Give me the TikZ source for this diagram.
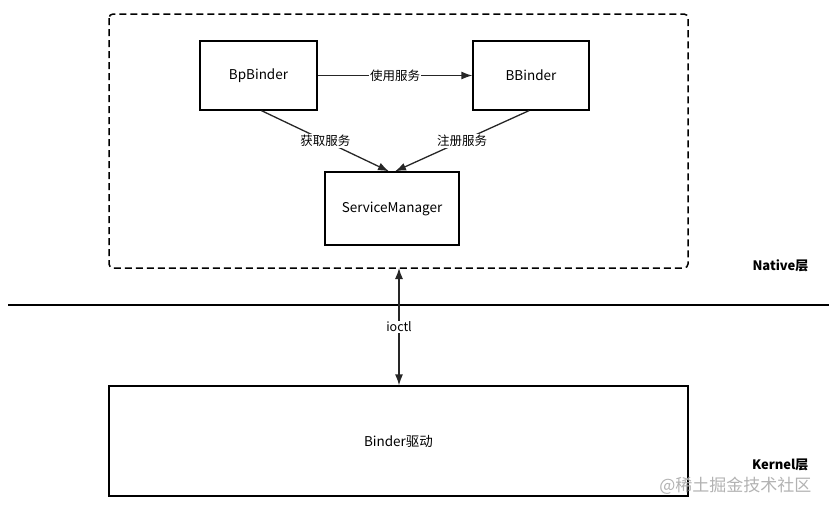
\documentclass[tikz,border=0pt]{standalone}
\usepackage{fontspec}
\setmainfont{Noto Sans CJK SC}
\usetikzlibrary{arrows.meta}

\tikzset{
  box/.style={draw, line width=1.3pt, inner sep=0pt},
  conn/.style={line width=1.3pt, draw=black!85, -{Latex[length=11pt,width=8pt]}},
  lbl/.style={fill=white, inner sep=1pt, font=\fontsize{12.5}{14}\selectfont},
  layer/.style={font=\fontsize{13}{15}\selectfont\bfseries, anchor=east}
}

\begin{document}
\begin{tikzpicture}[x=1pt,y=-1pt, font=\fontsize{13.5}{15}\selectfont]
\useasboundingbox (0,0) rectangle (829,512);

% native layer
\draw[line width=1.5pt, dash pattern=on 7pt off 4pt, rounded corners=4pt] (109,14) rectangle (688,268);
\coordinate (natbot) at (399,268);

\node[box, minimum width=117pt, minimum height=69pt] (bp) at (258.5,75.5) {BpBinder};
\node[box, minimum width=116pt, minimum height=69pt] (bb) at (531,75.5) {BBinder};
\node[box, minimum width=134pt, minimum height=73pt] (sm) at (392,208.5) {ServiceManager};

\draw[conn] (bp.east) -- node[lbl] {使用服务} (bb.west);
\draw[conn] (bp.south) ++(3,0) coordinate (bps) -- node[lbl, pos=0.5] {获取服务} ([xshift=-3pt]sm.north);
\draw[conn] (bb.south) ++(-2,0) coordinate (bbs) -- node[lbl, pos=0.5] {注册服务} ([xshift=3pt]sm.north);

% divider
\draw[line width=1.3pt] (8,305) -- (829,305);

% kernel layer
\node[box, minimum width=579pt, minimum height=110pt] (drv) at (398.5,441) {Binder驱动};
\draw[conn, {Latex[length=11pt,width=8pt]}-{Latex[length=11pt,width=8pt]}] (natbot) -- node[lbl] {ioctl} (natbot |- drv.north);

\node[layer] (native) at (812,266) {Native层};
\node[layer] (kernel) at (812,465) {Kernel层};
\node[anchor=east, text=black!30, font=\fontsize{17}{19}\selectfont] (mark) at (815,486) {@稀土掘金技术社区};
\end{tikzpicture}
\end{document}
